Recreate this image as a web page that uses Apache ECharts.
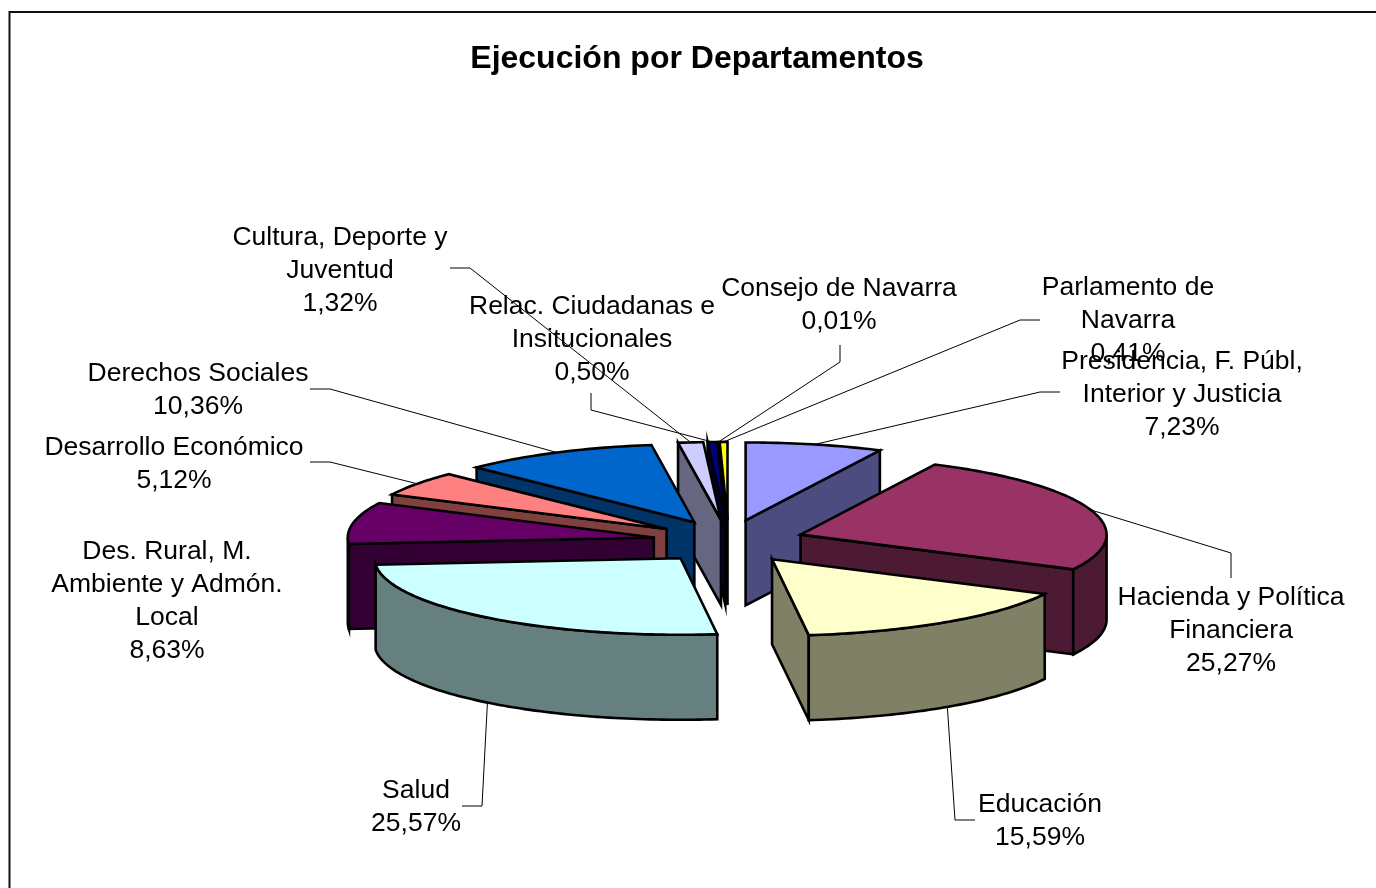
<!DOCTYPE html>
<html>
<head>
<meta charset="utf-8">
<title>Ejecución por Departamentos</title>
<script src="https://cdn.jsdelivr.net/npm/echarts@6/dist/echarts.min.js"></script>
<style>
html, body { margin: 0; padding: 0; background: #fff; overflow: hidden; }
#chart { width: 1376px; height: 888px; }
</style>
</head>
<body>
<div id="chart"></div>
<script>
// datos
const departamentos = [
    'Presidencia, F. Públ,\nInterior y Justicia',
    'Hacienda y Política\nFinanciera',
    'Educación',
    'Salud',
    'Des. Rural, M.\nAmbiente y Admón.\nLocal',
    'Desarrollo Económico',
    'Derechos Sociales',
    'Cultura, Deporte y\nJuventud',
    'Relac. Ciudadanas e\nInsitucionales',
    'Consejo de Navarra',
    'Parlamento de\nNavarra'
]
const porcentajes = [7.23, 25.27, 15.59, 25.57, 8.63, 5.12, 10.36, 1.32, 0.50, 0.01, 0.41]
const colores = ['#9999FF', '#993366', '#FFFFCC', '#CCFFFF', '#660066', '#FF8080', '#0066CC', '#CCCCFF', '#000080', '#FF00FF', '#FFFF00']
const coloresPared = ['#4C4C80', '#4D1A33', '#808066', '#668080', '#330033', '#804040', '#003366', '#666680', '#000040', '#800080', '#808000']

// geometria de la tarta
const pie = {
    cx: 728.5, cy: 541.5,      // centro antes de separar las porciones
    explodeX: 76, explodeY: 21.6,
    rx: 306, ryBack: 78, ryFront: 76.5,
    depth: 85
}
// posicion de cada etiqueta: x, y (centro del texto) y codos de la linea guia
const etiquetas = [
    { x: 1182, y: 395, guide: [[1060, 392], [1040, 392]] },
    { x: 1231, y: 630.5, guide: [[1231, 578], [1231, 553]] },
    { x: 1040, y: 821, guide: [[975, 820], [955, 820]] },
    { x: 416, y: 807, guide: [[462, 806], [482, 806]] },
    { x: 167, y: 601, guide: null },
    { x: 174, y: 464, guide: [[310, 462], [330, 462]] },
    { x: 198, y: 390, guide: [[310, 389], [330, 389]] },
    { x: 340, y: 271, guide: [[450, 268], [470, 268]] },
    { x: 592, y: 340, guide: [[591, 393], [591, 410]] },
    { x: 839, y: 305, guide: [[840, 345], [840, 362]] },
    { x: 1128, y: 321, guide: [[1040, 320], [1020, 320]] }
]

let total = 0
porcentajes.forEach(v => { total += v })
let acum = 0
const porciones = porcentajes.map((v, i) => {
    const a1 = acum / total * Math.PI * 2
    acum += v
    const a2 = acum / total * Math.PI * 2
    const mid = (a1 + a2) / 2
    return {
        i, a1, a2, mid,
        ax: pie.cx + pie.explodeX * Math.sin(mid),
        ay: pie.cy - pie.explodeY * Math.cos(mid)
    }
})
// se pinta de atras hacia adelante
const orden = porciones.slice().sort((p, q) => Math.cos(q.mid) - Math.cos(p.mid))

function borde(p, a) {
    const c = Math.cos(a)
    return [p.ax + pie.rx * Math.sin(a), p.ay - c * (c > 0 ? pie.ryBack : pie.ryFront)]
}
function bajar(pt) {
    return [pt[0], pt[1] + pie.depth]
}
function arco(p, a1, a2) {
    const n = Math.max(2, Math.ceil((a2 - a1) / 0.02))
    const pts = []
    for (let k = 0; k <= n; k++) {
        pts.push(borde(p, a1 + (a2 - a1) * k / n))
    }
    return pts
}
function cara(points, fill) {
    return {
        type: 'polygon',
        shape: { points },
        style: { fill, stroke: '#000', lineWidth: 2.6, lineJoin: 'miter', miterLimit: 10 }
    }
}

function pintarPorcion(params) {
    const p = orden[params.dataIndex]
    const pared = coloresPared[p.i]
    const centro = [p.ax, p.ay]
    const children = []
    // cortes que miran al observador
    if (Math.sin(p.a1) < -1e-6) {
        const e = borde(p, p.a1)
        children.push(cara([centro, e, bajar(e), bajar(centro)], pared))
    }
    if (Math.sin(p.a2) > 1e-6) {
        const e = borde(p, p.a2)
        children.push(cara([centro, e, bajar(e), bajar(centro)], pared))
    }
    // pared exterior, solo la mitad delantera
    const w1 = Math.max(p.a1, Math.PI / 2)
    const w2 = Math.min(p.a2, Math.PI * 1.5)
    if (w2 > w1) {
        const arriba = arco(p, w1, w2)
        children.push(cara(arriba.concat(arriba.map(bajar).reverse()), pared))
    }
    children.push(cara([centro].concat(arco(p, p.a1, p.a2)), colores[p.i]))
    return { type: 'group', children }
}

function pintarEtiqueta(params) {
    const p = porciones[params.dataIndex]
    const et = etiquetas[p.i]
    const children = []
    if (et.guide) {
        const delante = Math.cos(p.mid) < 0
        const fin = delante ? bajar(borde(p, p.mid)) : borde(p, p.mid)
        children.push({
            type: 'polyline',
            shape: { points: et.guide.concat([fin]) },
            style: { fill: 'none', stroke: '#000', lineWidth: 1 }
        })
    }
    children.push({
        type: 'text',
        style: {
            x: et.x,
            y: et.y,
            text: departamentos[p.i] + '\n' + porcentajes[p.i].toFixed(2).replace('.', ',') + '%',
            fill: '#000',
            font: '26.5px "Liberation Sans", Arial, sans-serif',
            lineHeight: 33,
            align: 'center',
            verticalAlign: 'middle'
        }
    })
    return { type: 'group', children }
}

const chart = echarts.init(document.getElementById('chart'), null, { renderer: 'canvas' })
chart.setOption({
    animation: false,
    backgroundColor: '#fff',
    title: {
        text: 'Ejecución por Departamentos',
        left: 692,
        top: 38,
        textAlign: 'center',
        textStyle: {
            color: '#000',
            fontFamily: '"Liberation Sans", Arial, sans-serif',
            fontSize: 32,
            fontWeight: 'bold'
        }
    },
    graphic: [{
        // marco del grafico, se sale por la derecha y por abajo
        type: 'rect',
        shape: { x: 9.5, y: 12, width: 1400, height: 900 },
        style: { fill: 'none', stroke: '#111', lineWidth: 2 },
        silent: true
    }],
    series: [
        {
            type: 'custom',
            coordinateSystem: 'none',
            renderItem: pintarPorcion,
            data: orden.map(p => porcentajes[p.i]),
            silent: true,
            z: 2
        },
        {
            type: 'custom',
            coordinateSystem: 'none',
            renderItem: pintarEtiqueta,
            data: porcentajes,
            silent: true,
            z: 3
        }
    ]
})
</script>
</body>
</html>
